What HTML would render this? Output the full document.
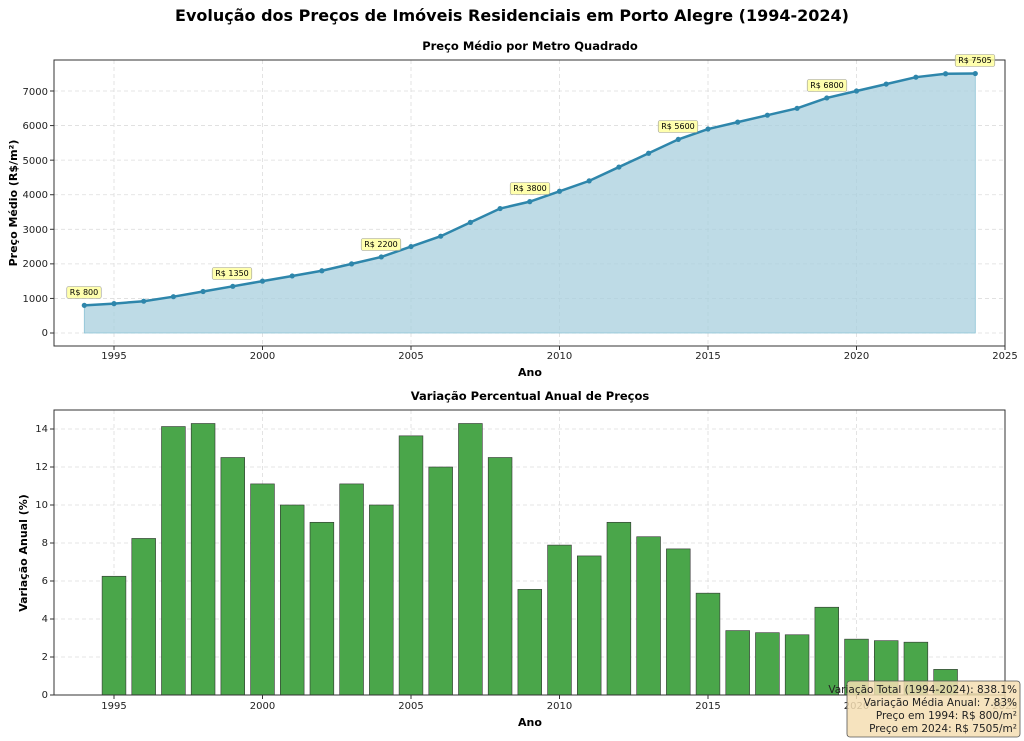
<!DOCTYPE html>
<html><head><meta charset="utf-8"><style>
body{margin:0;background:#fff;}
svg{display:block;font-family:"DejaVu Sans","Liberation Sans",sans-serif;}
.t{font-size:10px;fill:#222;}
</style></head><body>
<svg id="s" width="1024" height="741" xmlns="http://www.w3.org/2000/svg">
<text x="512" y="21" text-anchor="middle" font-size="16" font-weight="bold">Evolução dos Preços de Imóveis Residenciais em Porto Alegre (1994-2024)</text>
<text x="530" y="50" text-anchor="middle" font-size="11.5" font-weight="bold">Preço Médio por Metro Quadrado</text>
<text x="530" y="400" text-anchor="middle" font-size="11.5" font-weight="bold">Variação Percentual Anual de Preços</text>
<g id="gtop"></g><g id="gbot"></g>
<g class="t" text-anchor="end">
<text x="48" y="336">0</text><text x="48" y="302">1000</text><text x="48" y="267">2000</text><text x="48" y="233">3000</text><text x="48" y="198">4000</text><text x="48" y="164">5000</text><text x="48" y="129">6000</text><text x="48" y="95">7000</text>
<text x="48" y="698">0</text><text x="48" y="660">2</text><text x="48" y="622">4</text><text x="48" y="584">6</text><text x="48" y="546">8</text><text x="48" y="508">10</text><text x="48" y="470">12</text><text x="48" y="432">14</text>
</g>
<g class="t" text-anchor="middle">
<text x="114" y="359">1995</text><text x="262.5" y="359">2000</text><text x="411" y="359">2005</text><text x="559.5" y="359">2010</text><text x="708" y="359">2015</text><text x="856.5" y="359">2020</text><text x="1005" y="359">2025</text>
<text x="114" y="709">1995</text><text x="262.5" y="709">2000</text><text x="411" y="709">2005</text><text x="559.5" y="709">2010</text><text x="708" y="709">2015</text><text x="856.5" y="709">2020</text><text x="1005" y="709">2025</text>
</g>
<text x="530" y="376" text-anchor="middle" font-size="11" font-weight="bold">Ano</text>
<text x="530" y="726" text-anchor="middle" font-size="11" font-weight="bold">Ano</text>
<text transform="translate(17,203) rotate(-90)" text-anchor="middle" font-size="11" font-weight="bold">Preço Médio (R$/m²)</text>
<text transform="translate(27,553) rotate(-90)" text-anchor="middle" font-size="11" font-weight="bold">Variação Anual (%)</text>
<g id="ann" font-size="8" text-anchor="middle">
<text x="84" y="295">R$ 800</text><text x="232" y="276">R$ 1350</text><text x="381" y="247">R$ 2200</text><text x="530" y="191">R$ 3800</text><text x="678" y="129">R$ 5600</text><text x="827" y="88">R$ 6800</text><text x="975" y="63">R$ 7505</text>
</g>
<rect x="847" y="681" width="173" height="56" rx="3" fill="#f5deb3" fill-opacity="0.85" stroke="#555" stroke-width="0.8"/>
<g font-size="10.5" text-anchor="end" fill="#222">
<text x="1017" y="693">Variação Total (1994-2024): 838.1%</text>
<text x="1017" y="706">Variação Média Anual: 7.83%</text>
<text x="1017" y="719">Preço em 1994: R$ 800/m²</text>
<text x="1017" y="732">Preço em 2024: R$ 7505/m²</text>
</g>
</svg>
<script>
var NS="http://www.w3.org/2000/svg";
function el(p,n,a){var e=document.createElementNS(NS,n);for(var k in a)e.setAttribute(k,a[k]);p.appendChild(e);return e;}
var gT=document.getElementById('gtop'),gB=document.getElementById('gbot');
function X(y){return 114+(y-1995)*29.7;}
function Y(v){return 333-v*0.03457;}
function Yb(v){return 695-v*19.0;}
var P=[800,850,920,1050,1200,1350,1500,1650,1800,2000,2200,2500,2800,3200,3600,3800,4100,4400,4800,5200,5600,5900,6100,6300,6500,6800,7000,7200,7400,7500,7505];
var V=[6.25,8.24,14.13,14.29,12.5,11.11,10,9.09,11.11,10,13.64,12,14.29,12.5,5.56,7.89,7.32,9.09,8.33,7.69,5.36,3.39,3.28,3.17,4.62,2.94,2.86,2.78,1.35,0.07];
for(var y=1995;y<=2025;y+=5){el(gT,'line',{x1:X(y),x2:X(y),y1:60,y2:346,stroke:'#ddd','stroke-dasharray':'4,3','stroke-width':0.8});el(gB,'line',{x1:X(y),x2:X(y),y1:410,y2:695,stroke:'#ddd','stroke-dasharray':'4,3','stroke-width':0.8});}
for(var v=0;v<=7000;v+=1000)el(gT,'line',{x1:54,x2:1005,y1:Y(v),y2:Y(v),stroke:'#ddd','stroke-dasharray':'4,3','stroke-width':0.8});
for(var v=2;v<=14;v+=2)el(gB,'line',{x1:54,x2:1005,y1:Yb(v),y2:Yb(v),stroke:'#ddd','stroke-dasharray':'4,3','stroke-width':0.8});
var pts=P.map(function(p,i){return X(1994+i)+','+Y(p);}).join(' ');
el(gT,'polygon',{points:X(1994)+','+Y(0)+' '+pts+' '+X(2024)+','+Y(0),fill:'#a8cfdd','fill-opacity':0.75,stroke:'#8cc3d6','stroke-width':0.8});
el(gT,'polyline',{points:pts,fill:'none',stroke:'#2e86ab','stroke-width':2.5});
P.forEach(function(p,i){el(gT,'circle',{cx:X(1994+i),cy:Y(p),r:2.6,fill:'#2e86ab'});});
el(gT,'rect',{x:54,y:60,width:951,height:286,fill:'none',stroke:'#333','stroke-width':1});
V.forEach(function(v,i){var x=X(1995+i);el(gB,'rect',{x:x-11.9,y:Yb(v),width:23.8,height:695-Yb(v),fill:'#4aa64a',stroke:'#333','stroke-width':0.6});});
el(gB,'rect',{x:54,y:410,width:951,height:285,fill:'none',stroke:'#333','stroke-width':1});
for(var y=1995;y<=2025;y+=5){el(gT,'line',{x1:X(y),x2:X(y),y1:346,y2:350,stroke:'#333'});el(gB,'line',{x1:X(y),x2:X(y),y1:695,y2:699,stroke:'#333'});}
for(var v=0;v<=7000;v+=1000)el(gT,'line',{x1:50,x2:54,y1:Y(v),y2:Y(v),stroke:'#333'});
for(var v=0;v<=14;v+=2)el(gB,'line',{x1:50,x2:54,y1:Yb(v),y2:Yb(v),stroke:'#333'});
var ann=document.getElementById('ann');
Array.prototype.forEach.call(ann.querySelectorAll('text'),function(t){var b=t.getBBox();var r=document.createElementNS(NS,'rect');r.setAttribute('x',b.x-3);r.setAttribute('y',b.y-1.5);r.setAttribute('width',b.width+6);r.setAttribute('height',b.height+3);r.setAttribute('rx',2);r.setAttribute('fill','#ffff99');r.setAttribute('fill-opacity','0.8');r.setAttribute('stroke','#999');r.setAttribute('stroke-width','0.6');ann.insertBefore(r,t);});
</script>
</body></html>
